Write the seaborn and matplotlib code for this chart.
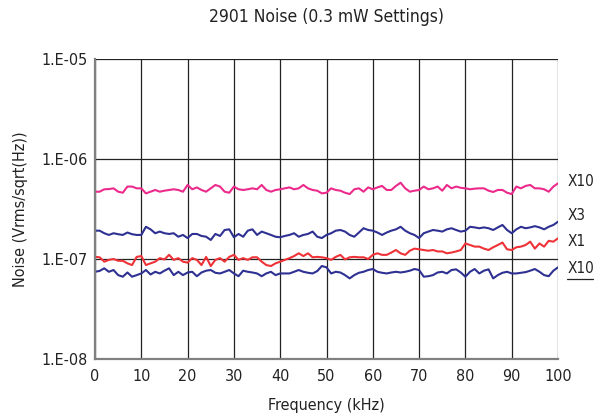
import numpy as np
import pandas as pd
import seaborn as sns
from matplotlib import pyplot as plt
import matplotlib.ticker as plticker

# noise curves, units of 1e-7 Vrms/sqrt(Hz), one value per kHz (0..100)
x10_high = [4.71, 4.71, 4.98, 5.0, 5.09, 4.71, 4.6, 5.3, 5.3, 5.09,
            5.09, 4.53, 4.71, 4.9, 4.71, 4.82, 4.9, 4.98, 4.9, 4.71,
            5.5, 4.98, 5.2, 4.9, 4.71, 5.09, 5.5, 5.3, 4.71, 4.6,
            5.3, 4.98, 4.9, 4.98, 5.09, 4.98, 5.5, 4.9, 4.71, 4.9,
            4.98, 5.09, 5.2, 4.98, 5.09, 5.5, 5.09, 4.9, 4.82, 4.53,
            4.6, 5.09, 4.9, 4.82, 4.6, 4.46, 4.98, 5.09, 4.71, 5.2,
            4.98, 5.2, 5.38, 4.9, 4.9, 5.38, 5.79, 5.09, 4.71, 4.82,
            4.9, 5.3, 4.98, 5.09, 5.3, 4.82, 5.5, 5.09, 5.3, 5.15,
            5.09, 4.98, 5.05, 5.09, 5.09, 4.82, 4.68, 4.9, 4.9, 4.6,
            4.46, 5.3, 5.09, 5.38, 5.5, 5.09, 5.09, 4.98, 4.71, 5.3, 5.71]
x3 = [1.92, 1.92, 1.81, 1.74, 1.81, 1.77, 1.74, 1.84, 1.77, 1.74,
      1.74, 2.10, 1.98, 1.81, 1.88, 1.81, 1.78, 1.81, 1.67, 1.74,
      1.62, 1.78, 1.78, 1.70, 1.67, 1.55, 1.78, 1.70, 1.95, 1.98,
      1.65, 1.78, 1.67, 1.92, 1.98, 1.74, 1.88, 1.81, 1.74, 1.67,
      1.65, 1.70, 1.74, 1.81, 1.67, 1.74, 1.78, 1.88, 1.67, 1.62,
      1.74, 1.81, 1.92, 1.95, 1.88, 1.74, 1.67, 1.84, 2.03, 1.95,
      1.92, 1.84, 1.74, 1.84, 1.92, 1.98, 2.10, 1.92, 1.81, 1.74,
      1.62, 1.81, 1.88, 1.95, 1.92, 1.88, 1.98, 2.03, 1.95, 1.88,
      1.92, 2.10, 2.07, 2.03, 2.07, 2.03, 1.95, 2.07, 2.19, 1.95,
      1.81, 1.98, 2.10, 2.03, 2.07, 2.13, 2.07, 1.98, 2.10, 2.19, 2.36]
x1 = [1.05, 1.04, 0.94, 0.98, 1.0, 0.96, 0.96, 0.905, 0.87, 1.05,
      1.07, 0.87, 0.905, 0.94, 1.02, 0.99, 1.10, 0.98, 1.02, 0.94,
      0.92, 1.02, 0.98, 0.87, 1.05, 0.85, 0.98, 1.02, 0.94, 1.05,
      1.10, 0.98, 1.02, 0.98, 1.04, 1.04, 0.94, 0.87, 0.85, 0.905,
      0.94, 0.98, 1.02, 1.07, 1.14, 1.07, 1.14, 1.04, 1.05, 1.04,
      1.02, 0.98, 1.05, 1.10, 0.99, 1.04, 1.05, 1.04, 1.04, 1.0,
      1.10, 1.14, 1.10, 1.10, 1.16, 1.23, 1.14, 1.10, 1.21, 1.27,
      1.25, 1.23, 1.21, 1.23, 1.19, 1.19, 1.14, 1.16, 1.19, 1.23,
      1.43, 1.38, 1.33, 1.33, 1.27, 1.23, 1.31, 1.38, 1.46, 1.25,
      1.23, 1.31, 1.33, 1.38, 1.49, 1.27, 1.43, 1.33, 1.52, 1.49, 1.61]
x10_low = [0.745, 0.76, 0.807, 0.745, 0.776, 0.69, 0.665, 0.733, 0.665, 0.69,
           0.717, 0.776, 0.70, 0.745, 0.717, 0.764, 0.807, 0.69, 0.745, 0.69,
           0.733, 0.745, 0.673, 0.733, 0.764, 0.776, 0.728, 0.717, 0.745, 0.776,
           0.717, 0.673, 0.764, 0.745, 0.733, 0.717, 0.673, 0.717, 0.745, 0.69,
           0.717, 0.717, 0.717, 0.745, 0.776, 0.745, 0.728, 0.717, 0.757, 0.851,
           0.825, 0.717, 0.745, 0.733, 0.69, 0.64, 0.69, 0.728, 0.745, 0.776,
           0.794, 0.745, 0.728, 0.717, 0.733, 0.745, 0.733, 0.745, 0.764, 0.794,
           0.776, 0.665, 0.673, 0.69, 0.733, 0.745, 0.717, 0.776, 0.788, 0.733,
           0.665, 0.745, 0.794, 0.717, 0.764, 0.788, 0.64, 0.69, 0.728, 0.745,
           0.717, 0.717, 0.728, 0.739, 0.764, 0.794, 0.745, 0.69, 0.673, 0.764, 0.825]

series_names = ["X10 high", "X3", "X1", "X10 low"]
series_values = [x10_high, x3, x1, x10_low]
label_text = ["X10", "X3", "X1", "X10"]
yticks = [1e-8, 1e-7, 1e-6, 1e-5]
ytick_labels = ["1.E-08", "1.E-07", "1.E-06", "1.E-05"]
xticks = [0, 10, 20, 30, 40, 50, 60, 70, 80, 90, 100]

colors = {"X10 high": "#ec2a8c", "X3": "#2e3192", "X1": "#ee3237", "X10 low": "#2e3192"}

rows = []
for name, vals in zip(series_names, series_values):
    freq = np.linspace(0, 100, len(vals))
    for f, v in zip(freq, vals):
        rows.append((name, f, v * 1e-7))
df = pd.DataFrame(data=rows, columns=("series", "frequency", "noise"))

sns.set_style("white")
plt.rcParams['font.family'] = ['DejaVu Sans']
plt.rcParams['font.stretch'] = 'condensed'
plt.rcParams['text.color'] = '#222222'
plt.rcParams['axes.labelcolor'] = '#222222'

fig = plt.figure(figsize=(5.96, 4.17), dpi=100)
ax = fig.add_axes([95 / 596, 1 - 359 / 417, 463 / 596, 300 / 417])

sns.lineplot(data=df, x="frequency", y="noise", hue="series", palette=colors,
             hue_order=series_names, linewidth=1.5, legend=False, ax=ax)

ax.set_yscale("log")
ax.set_ylim(1e-8, 1e-5)
ax.set_xlim(0, 100)
ax.yaxis.set_major_locator(plticker.FixedLocator(yticks))
ax.yaxis.set_major_formatter(plticker.FixedFormatter(ytick_labels))
ax.yaxis.set_minor_locator(plticker.NullLocator())
ax.set_xticks(xticks)

ax.grid(True, which="major", color="#222222", linewidth=0.9)
for side in ["left", "bottom"]:
    ax.spines[side].set_color("#808080")
    ax.spines[side].set_linewidth(1.6)
for side in ["top", "right"]:
    ax.spines[side].set_visible(False)

ax.tick_params(axis="y", length=4, width=0.9, color="#555555", labelsize=11.5,
               labelcolor="#222222", pad=1)
ax.tick_params(axis="x", length=0, labelsize=11.5, labelcolor="#222222", pad=7)

ax.set_xlabel("Frequency (kHz)", fontsize=11.5, labelpad=10)
ax.set_ylabel("Noise (Vrms/sqrt(Hz))", fontsize=11.5, labelpad=10)
ax.set_title("2901 Noise (0.3 mW Settings)", fontsize=12.5, pad=27)

label_y = [0.593, 0.477, 0.39, 0.303]
for txt, yy in zip(label_text, label_y):
    ax.text(1.021, yy, txt, transform=ax.transAxes, fontsize=11,
            va="center", ha="left", clip_on=False)
ax.plot([1.019, 1.075], [0.268, 0.268], transform=ax.transAxes, color="#222222",
        linewidth=0.9, clip_on=False)

fig.savefig("out.png", dpi=100)
